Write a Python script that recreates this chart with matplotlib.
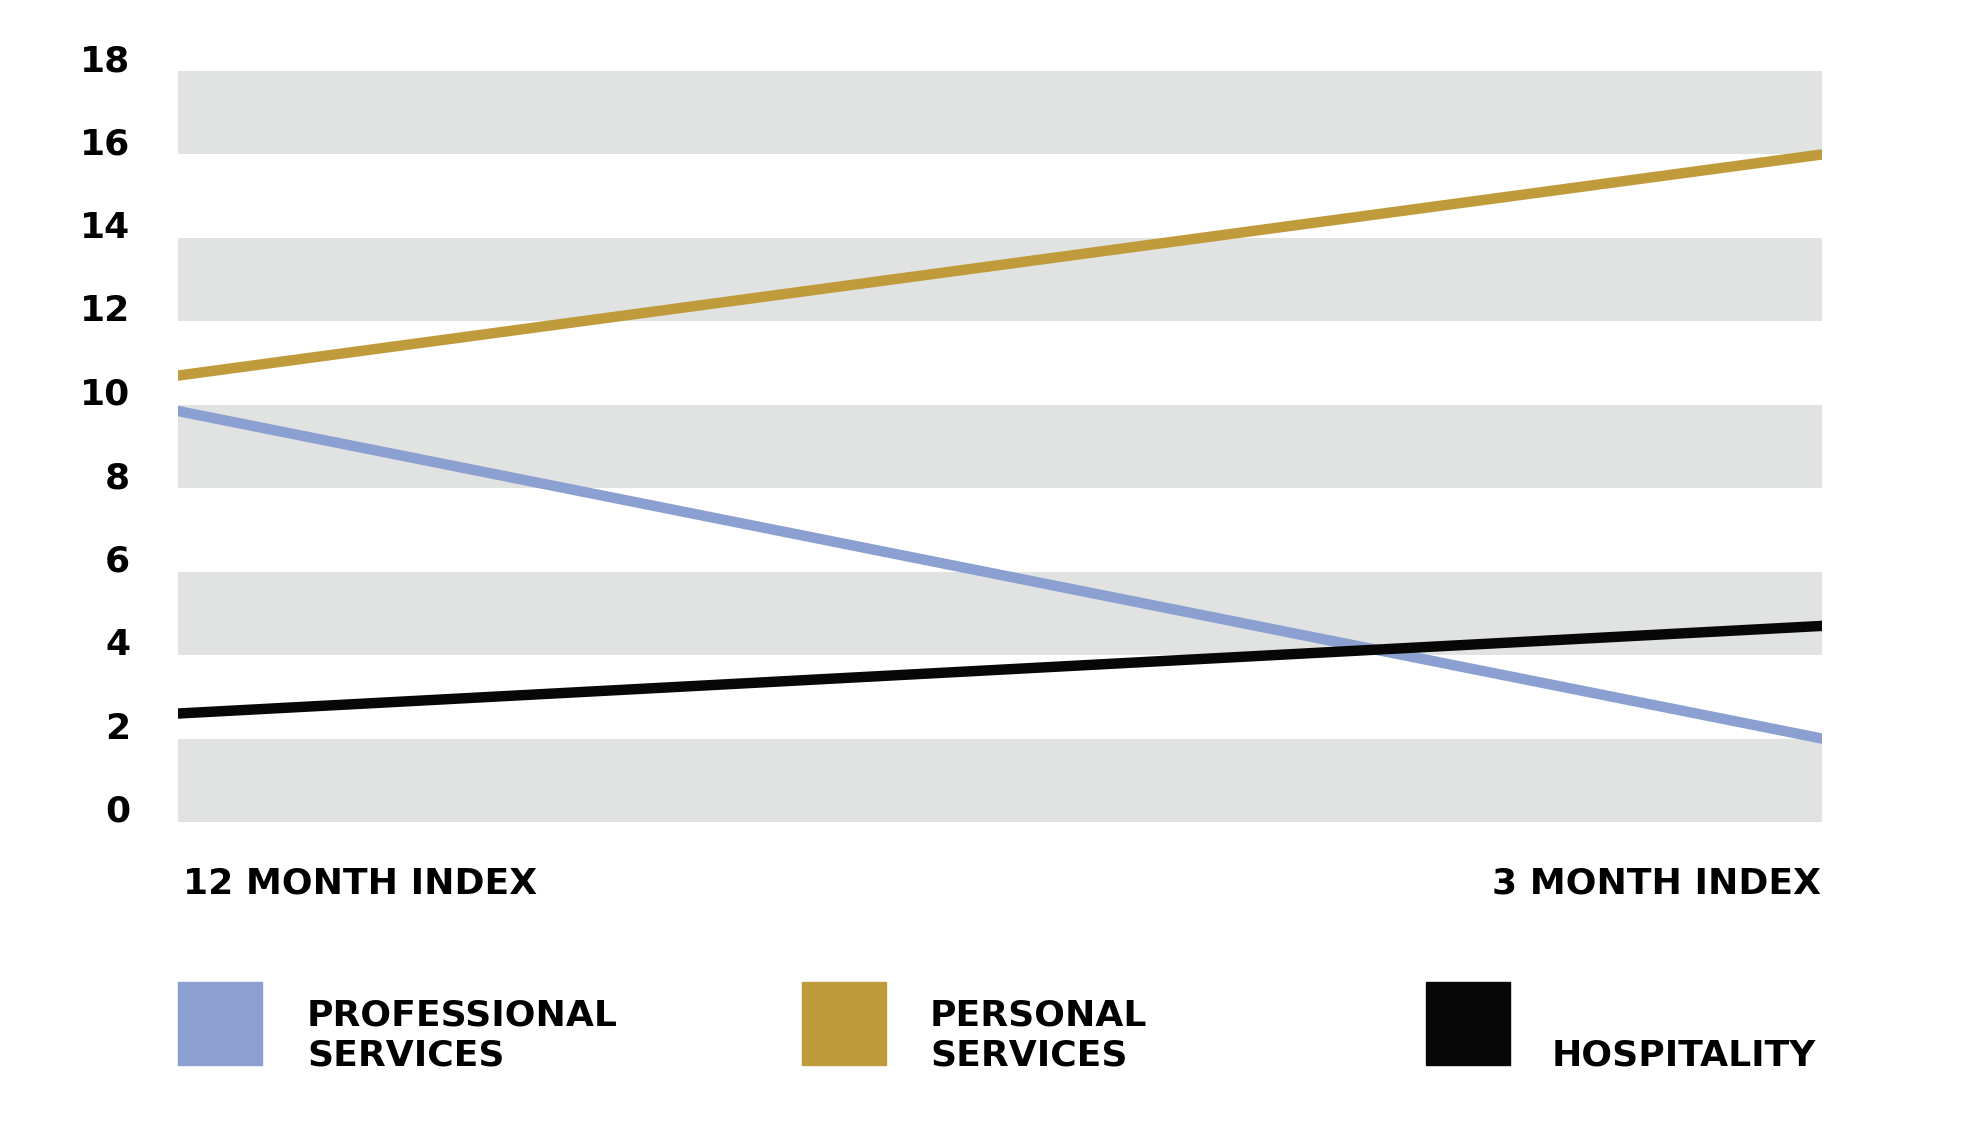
import matplotlib
matplotlib.use("Agg")
import matplotlib.pyplot as plt
from matplotlib.patches import Rectangle

plt.rcParams['font.family'] = ['DejaVu Sans']

# data
periods = ["12 MONTH INDEX", "3 MONTH INDEX"]
professional = [9.85, 2.0]
personal = [10.7, 16.0]
hospitality = [2.6, 4.7]
series_names = ["PROFESSIONAL\nSERVICES", "PERSONAL\nSERVICES", "HOSPITALITY"]
series_colors = ["#8ba0d0", "#bf9b3b", "#070707"]
y_ticks = [0, 2, 4, 6, 8, 10, 12, 14, 16, 18]
band_color = "#e1e3e2"

W, H = 1970, 1148
fig = plt.figure(figsize=(W / 100, H / 100), dpi=100)
ax = fig.add_axes([178 / W, 1 - 822 / H, (1822 - 178) / W, (822 - 71) / H])

# alternating grey bands
for lo in range(0, 18, 4):
    ax.axhspan(lo, lo + 2, color=band_color, lw=0, zorder=0)

x = [0, 1]
ax.plot(x, personal, color=series_colors[1], lw=7.5, solid_capstyle="round", zorder=3)
ax.plot(x, professional, color=series_colors[0], lw=7.5, solid_capstyle="round", zorder=3)
ax.plot(x, hospitality, color=series_colors[2], lw=7.5, solid_capstyle="round", zorder=3)

ax.set_xlim(0, 1)
ax.set_ylim(0, 18)
for s in ax.spines.values():
    s.set_visible(False)
ax.set_xticks([])
ax.set_yticks(y_ticks)
ax.tick_params(axis="y", length=0, pad=34.5, labelsize=26)
for lab in ax.get_yticklabels():
    lab.set_fontweight("bold")
    lab.set_verticalalignment("baseline")

fs = 26
# period labels under the axis
fig.text(183 / W, 1 - 893 / H, periods[0], ha="left", va="baseline", fontsize=fs, fontweight="bold")
fig.text(1821 / W, 1 - 893 / H, periods[1], ha="right", va="baseline", fontsize=fs, fontweight="bold")

# legend drawn by hand
sq_x = [178, 802, 1426]
txt_x = [307, 930, 1552]
for i, name in enumerate(series_names):
    fig.patches.append(Rectangle((sq_x[i] / W, 1 - 1065 / H), 84 / W, 83 / H,
                                 transform=fig.transFigure, color=series_colors[i]))
    lines = name.split("\n")
    base = 1065
    for j, line in enumerate(reversed(lines)):
        fig.text(txt_x[i] / W, 1 - (base - 40 * j) / H, line, ha="left", va="baseline",
                 fontsize=fs, fontweight="bold")

fig.savefig("out.png", dpi=100)
